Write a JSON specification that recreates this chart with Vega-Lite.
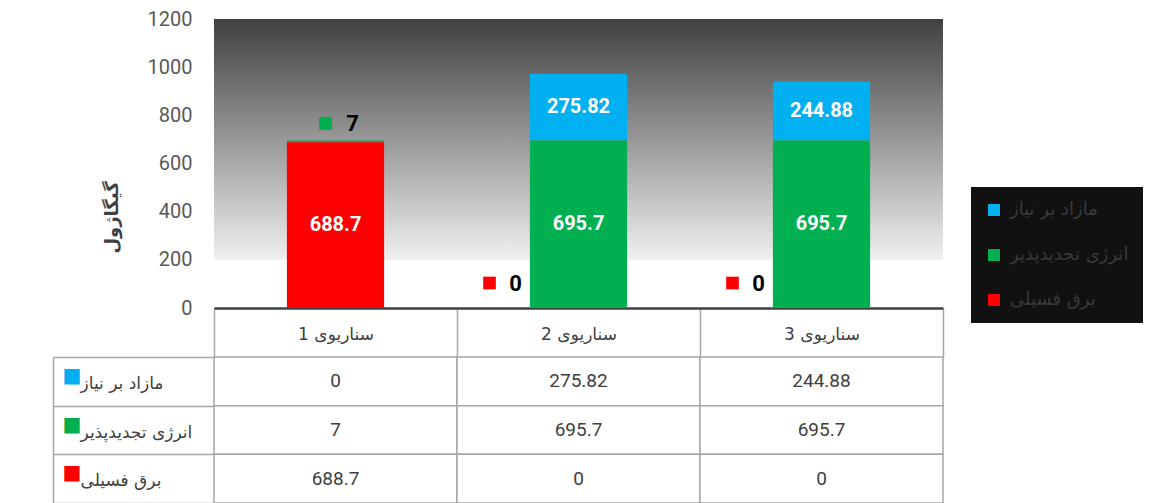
{
  "$schema": "https://vega.github.io/schema/vega-lite/v6.json",
  "background": "white",
  "autosize": {"type": "pad"},
  "padding": {"left": 52, "top": 9, "right": 0, "bottom": 0},
  "config": {"view": {"stroke": null}, "font": "Roboto"},
  "datasets": {
    "energy": [
      {"scenario": "سناریوی 1", "series": "مازاد بر نیاز", "value": 0},
      {"scenario": "سناریوی 2", "series": "مازاد بر نیاز", "value": 275.82},
      {"scenario": "سناریوی 3", "series": "مازاد بر نیاز", "value": 244.88},
      {"scenario": "سناریوی 1", "series": "انرژی تجدیدپذیر", "value": 7},
      {"scenario": "سناریوی 2", "series": "انرژی تجدیدپذیر", "value": 695.7},
      {"scenario": "سناریوی 3", "series": "انرژی تجدیدپذیر", "value": 695.7},
      {"scenario": "سناریوی 1", "series": "برق فسیلی", "value": 688.7},
      {"scenario": "سناریوی 2", "series": "برق فسیلی", "value": 0},
      {"scenario": "سناریوی 3", "series": "برق فسیلی", "value": 0}
    ]
  },
  "spacing": 49,
  "bounds": "flush",
  "resolve": {"scale": {"x": "independent", "y": "independent"}},
  "vconcat": [
    {
      "width": 729,
      "height": 289,
      "layer": [
        {
          "data": {"values": [{}]},
          "mark": {
            "type": "rect",
            "fill": {
              "gradient": "linear",
              "x1": 0, "y1": 0, "x2": 0, "y2": 1,
              "stops": [
                {"offset": 0, "color": "#404040"},
                {"offset": 1, "color": "#f0f0f0"}
              ]
            }
          },
          "encoding": {
            "y": {"datum": 1200, "type": "quantitative", "title": "گیگاژول", "scale": {"domain": [0, 1200], "nice": false}},
            "y2": {"datum": 200}
          }
        },
        {
          "data": {"name": "energy"},
          "transform": [
            {"calculate": "indexof(['برق فسیلی','انرژی تجدیدپذیر','مازاد بر نیاز'], datum.series)", "as": "ord"},
            {"stack": "value", "groupby": ["scenario"], "sort": [{"field": "ord", "order": "ascending"}], "as": ["v0", "v1"]},
            {"calculate": "(datum.v0 + datum.v1) / 2", "as": "vmid"}
          ],
          "encoding": {
            "x": {
              "field": "scenario", "type": "nominal",
              "sort": ["سناریوی 1", "سناریوی 2", "سناریوی 3"],
              "scale": {"paddingInner": 0, "paddingOuter": 0},
              "axis": {
                "title": null, "labelAngle": 0,
                "domainColor": "#404040", "domainWidth": 2.5,
                "tickBand": "extent", "tickSize": 49, "tickColor": "#a6a6a6", "tickWidth": 1.5,
                "labelPadding": -23, "labelBaseline": "middle",
                "labelFontSize": 17, "labelColor": "#404040", "labelFont": "DejaVu Sans"
              }
            }
          },
          "layer": [
            {
              "mark": {"type": "bar", "width": {"band": 0.4}},
              "encoding": {
                "y": {
                  "field": "v0", "type": "quantitative", "title": "گیگاژول",
                  "scale": {"domain": [0, 1200], "nice": false},
                  "axis": {
                    "values": [0, 200, 400, 600, 800, 1000, 1200], "format": "d",
                    "grid": false, "domain": false, "ticks": false,
                    "labelPadding": 22, "labelFontSize": 20, "labelColor": "#595959",
                    "titleFont": "DejaVu Sans", "titleFontSize": 18, "titleFontWeight": "bold",
                    "titleColor": "#404040", "titleX": -93, "titleY": 198, "titleAngle": -90
                  }
                },
                "y2": {"field": "v1"},
                "color": {
                  "field": "series", "type": "nominal",
                  "scale": {
                    "domain": ["مازاد بر نیاز", "انرژی تجدیدپذیر", "برق فسیلی"],
                    "range": ["#00b0f0", "#00b050", "#ff0000"]
                  },
                  "legend": {
                    "orient": "none", "legendX": 757, "legendY": 168,
                    "title": null, "fillColor": "#111111", "padding": 14,
                    "symbolType": "square", "symbolSize": 144, "symbolStrokeWidth": 0,
                    "labelColor": "#3a3a3a", "labelFontSize": 18, "labelFont": "DejaVu Sans",
                    "rowPadding": 27, "labelOffset": 7
                  }
                }
              }
            },
            {
              "transform": [{"filter": "datum.value > 100"}],
              "mark": {"type": "text", "fontSize": 20, "fontWeight": "bold", "color": "white", "font": "Roboto"},
              "encoding": {
                "y": {"field": "vmid", "type": "quantitative", "title": "گیگاژول"},
                "text": {"field": "value", "type": "quantitative"}
              }
            },
            {
              "transform": [{"filter": "datum.value > 0 && datum.value < 50"}],
              "mark": {"type": "point", "shape": "square", "filled": true, "opacity": 1, "size": 169, "xOffset": -10, "yOffset": -17},
              "encoding": {
                "y": {"field": "v1", "type": "quantitative", "title": "گیگاژول"},
                "color": {"field": "series", "type": "nominal"}
              }
            },
            {
              "transform": [{"filter": "datum.value > 0 && datum.value < 50"}],
              "mark": {"type": "text", "fontSize": 22, "fontWeight": "bold", "color": "black", "dx": 17, "dy": -16, "font": "Roboto"},
              "encoding": {
                "y": {"field": "v1", "type": "quantitative", "title": "گیگاژول"},
                "text": {"field": "value", "type": "quantitative"}
              }
            },
            {
              "transform": [{"filter": "datum.value == 0 && datum.series == 'برق فسیلی'"}],
              "mark": {"type": "point", "shape": "square", "filled": true, "opacity": 1, "size": 160, "xOffset": -89, "yOffset": -25},
              "encoding": {
                "y": {"field": "v0", "type": "quantitative", "title": "گیگاژول"},
                "color": {"field": "series", "type": "nominal"}
              }
            },
            {
              "transform": [{"filter": "datum.value == 0 && datum.series == 'برق فسیلی'"}],
              "mark": {"type": "text", "fontSize": 22, "fontWeight": "bold", "color": "black", "dx": -63, "dy": -24, "font": "Roboto"},
              "encoding": {
                "y": {"field": "v0", "type": "quantitative", "title": "گیگاژول"},
                "text": {"field": "value", "type": "quantitative"}
              }
            }
          ]
        }
      ]
    },
    {
      "width": 729,
      "height": 146,
      "data": {"name": "energy"},
      "encoding": {
        "x": {
          "field": "scenario", "type": "nominal",
          "sort": ["سناریوی 1", "سناریوی 2", "سناریوی 3"],
          "scale": {"paddingInner": 0, "paddingOuter": 0},
          "axis": null
        }
      },
      "layer": [
        {
          "mark": {"type": "rect", "fill": "white", "stroke": "#a6a6a6", "strokeWidth": 1.5},
          "encoding": {
            "y": {
              "field": "series", "type": "nominal",
              "scale": {"domain": ["مازاد بر نیاز", "انرژی تجدیدپذیر", "برق فسیلی"], "paddingInner": 0, "paddingOuter": 0},
              "axis": {
                "title": null, "domain": false,
                "ticks": true, "tickBand": "extent", "tickSize": 161, "tickColor": "#a6a6a6", "tickWidth": 1.5,
                "labelAlign": "left", "labelPadding": -27, "labelBaseline": "middle", "labelOffset": 2,
                "labelFontSize": 17, "labelFont": "DejaVu Sans", "labelColor": "#404040", "labelLimit": 300
              }
            }
          }
        },
        {
          "mark": {"type": "text", "fontSize": 19, "color": "#404040", "font": "Roboto"},
          "encoding": {
            "y": {
              "field": "series", "type": "nominal",
              "scale": {"domain": ["مازاد بر نیاز", "انرژی تجدیدپذیر", "برق فسیلی"], "paddingInner": 0, "paddingOuter": 0},
              "axis": null
            },
            "text": {"field": "value", "type": "quantitative"}
          }
        },
        {
          "mark": {"type": "text", "opacity": 0},
          "encoding": {
            "y": {
              "field": "series", "type": "nominal",
              "scale": {"domain": ["مازاد بر نیاز", "انرژی تجدیدپذیر", "برق فسیلی"], "paddingInner": 0, "paddingOuter": 0},
              "axis": {
                "orient": "left", "offset": 161, "title": null,
                "domain": true, "domainColor": "#a6a6a6", "domainWidth": 1.5,
                "ticks": false, "tickSize": 0,
                "labelAlign": "left", "labelPadding": -9, "labelBaseline": "middle", "labelOffset": -6,
                "labelExpr": "'■'", "labelFontSize": 20, "labelFont": "DejaVu Sans",
                "labelColor": {
                  "condition": [
                    {"test": "datum.value == 'مازاد بر نیاز'", "value": "#00b0f0"},
                    {"test": "datum.value == 'انرژی تجدیدپذیر'", "value": "#00b050"}
                  ],
                  "value": "#ff0000"
                }
              }
            },
            "text": {"field": "value", "type": "quantitative"}
          }
        }
      ],
      "resolve": {"scale": {"y": "independent"}, "axis": {"y": "independent"}}
    }
  ]
}
